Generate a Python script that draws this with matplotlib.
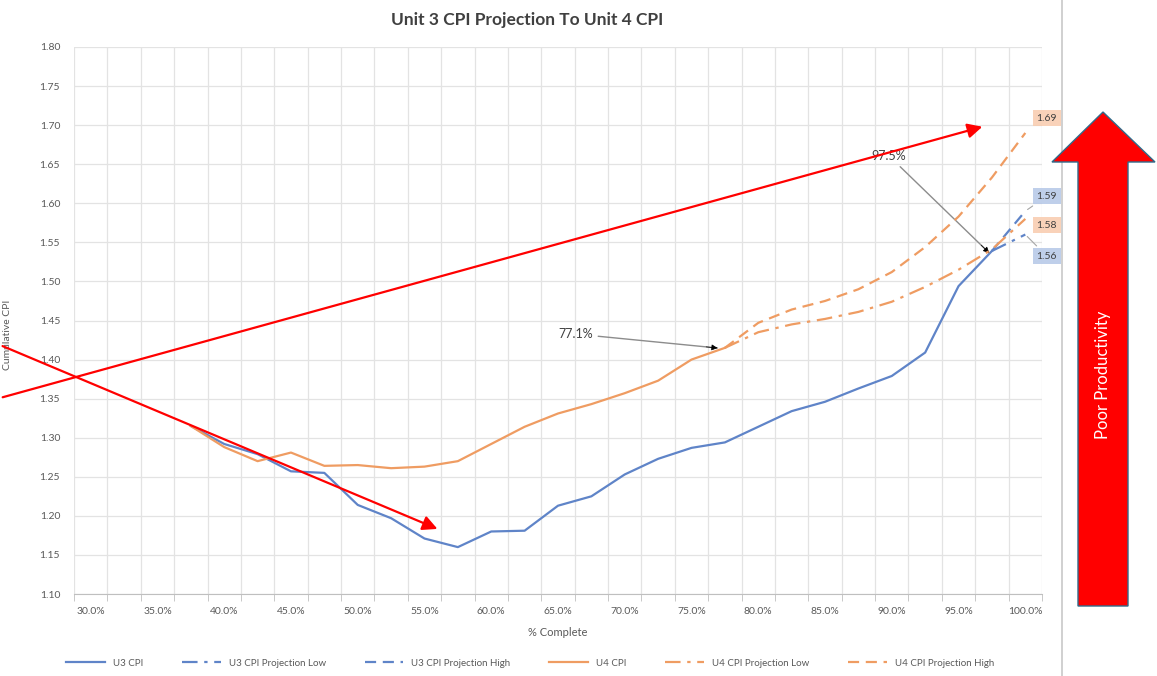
import matplotlib
matplotlib.use('Agg')
import matplotlib.pyplot as plt
from matplotlib.patches import Polygon, FancyArrowPatch
from matplotlib.lines import Line2D

plt.rcParams['font.family'] = ['Lato', 'DejaVu Sans']

# Data (% complete vs cumulative CPI)
u3_x = [37.5, 40, 42.5, 45, 47.5, 50, 52.5, 55, 57.5, 60, 62.5, 65, 67.5,
        70, 72.5, 75, 77.5, 80, 82.5, 85, 87.5, 90, 92.5, 95, 97.5]
u3_cpi = [1.315, 1.292, 1.279, 1.257, 1.255, 1.214, 1.197, 1.171, 1.160,
          1.180, 1.181, 1.213, 1.225, 1.253, 1.273, 1.287, 1.294, 1.314,
          1.334, 1.346, 1.363, 1.379, 1.409, 1.494, 1.539]

u3_proj_x = [97.5, 100]
u3_proj_low = [1.539, 1.56]
u3_proj_high = [1.539, 1.59]

u4_x = [37.5, 40, 42.5, 45, 47.5, 50, 52.5, 55, 57.5, 60, 62.5, 65, 67.5,
        70, 72.5, 75, 77.5]
u4_cpi = [1.315, 1.288, 1.270, 1.281, 1.264, 1.265, 1.261, 1.263, 1.270,
          1.292, 1.314, 1.331, 1.343, 1.357, 1.373, 1.400, 1.415]

u4_proj_x = [77.5, 80, 82.5, 85, 87.5, 90, 92.5, 95, 97.5, 100]
u4_proj_low = [1.415, 1.435, 1.445, 1.452, 1.461, 1.474, 1.493, 1.515, 1.541, 1.58]
u4_proj_high = [1.415, 1.447, 1.464, 1.475, 1.490, 1.512, 1.544, 1.583, 1.633, 1.69]

x_ticks = [30, 35, 40, 45, 50, 55, 60, 65, 70, 75, 80, 85, 90, 95, 100]
x_labels = ['%.1f%%' % v for v in x_ticks]
y_ticks = [1.10 + 0.05 * i for i in range(15)]

BLUE = '#5f84c8'
ORANGE = '#ef9c62'
GREY_TXT = '#595959'
DASH_LOW = (0, (7, 3, 1.5, 3))
DASH_HIGH = (0, (5, 3))

W, H = 1157, 676
fig = plt.figure(figsize=(W / 100, H / 100), dpi=100)
ax = fig.add_axes([74 / W, 1 - 594 / H, (1042 - 74) / W, (594 - 47) / H])

ax.plot(u3_x, u3_cpi, color=BLUE, lw=1.6, label='U3 CPI', zorder=3)
ax.plot(u3_proj_x, u3_proj_low, color=BLUE, lw=1.6, ls=DASH_LOW,
        label='U3 CPI Projection Low', zorder=3)
ax.plot(u3_proj_x, u3_proj_high, color=BLUE, lw=1.6, ls=DASH_HIGH,
        label='U3 CPI Projection High', zorder=3)
ax.plot(u4_x, u4_cpi, color=ORANGE, lw=1.6, label='U4 CPI', zorder=4)
ax.plot(u4_proj_x, u4_proj_low, color=ORANGE, lw=1.6, ls=DASH_LOW,
        label='U4 CPI Projection Low', zorder=4)
ax.plot(u4_proj_x, u4_proj_high, color=ORANGE, lw=1.6, ls=DASH_HIGH,
        label='U4 CPI Projection High', zorder=4)

ax.set_xlim(28.75, 101.25)
ax.set_ylim(1.10, 1.80)
ax.set_xticks(x_ticks)
ax.set_xticklabels(x_labels)
ax.set_xticks([28.75 + 2.5 * k for k in range(30)], minor=True)
ax.set_yticks(y_ticks)
ax.set_yticklabels(['%.2f' % v for v in y_ticks])
ax.tick_params(axis='x', which='major', length=0, pad=9, labelsize=7.5, labelcolor=GREY_TXT)
ax.tick_params(axis='x', which='minor', length=5, color='#bfbfbf', direction='out')
ax.tick_params(axis='y', length=0, pad=10, labelsize=7.5, labelcolor=GREY_TXT)
ax.grid(True, axis='x', which='minor', color='#e3e3e3', lw=0.9)
ax.grid(True, axis='y', which='major', color='#e3e3e3', lw=0.9)
ax.grid(False, axis='x', which='major')
for s in ['top', 'right', 'left']:
    ax.spines[s].set_visible(False)
ax.spines['bottom'].set_color('#bfbfbf')

ax.set_xlabel('% Complete', fontsize=8, color=GREY_TXT, labelpad=8)
fig.text(8 / W, 1 - 335 / H, 'Cumulative CPI', rotation=90, fontsize=7.5,
         color=GREY_TXT, ha='center', va='center')
fig.text(527 / W, 1 - 20 / H, 'Unit 3 CPI Projection To Unit 4 CPI',
         fontsize=12.5, fontweight='bold', color='#404040', ha='center', va='center')

# end-point data labels (leader shown only where the label sits away from the line)
end_labels = [
    ('%.2f' % u4_proj_high[-1], u4_proj_high[-1], 1.709, '#f8cbad', False),
    ('%.2f' % u3_proj_high[-1], u3_proj_high[-1], 1.609, '#b4c7e7', True),
    ('%.2f' % u4_proj_low[-1], u4_proj_low[-1], 1.572, '#f8cbad', False),
    ('%.2f' % u3_proj_low[-1], u3_proj_low[-1], 1.5325, '#b4c7e7', True),
]
for txt, yv, ty, fc, leader in end_labels:
    props = dict(arrowstyle='-', color='#a6a6a6', lw=0.8) if leader else None
    ax.annotate(txt, xy=(100, yv), xytext=(101.6, ty), fontsize=7.5,
                color='#404040', ha='center', va='center', annotation_clip=False,
                bbox=dict(boxstyle='square,pad=0.35', fc=fc, ec='none', alpha=0.85),
                arrowprops=props)

# callouts: grey shaft, black head
callouts = [('77.1%', (76.95, 1.4148), (66.3, 1.4327)),
            ('97.5%', (97.3, 1.5364), (89.8, 1.6605))]
for txt, tip, pos in callouts:
    ax.annotate(txt, xy=tip, xytext=pos, fontsize=9, color='#404040',
                ha='center', va='center',
                arrowprops=dict(arrowstyle='-', color='#8c8c8c', lw=1,
                                shrinkA=2, shrinkB=0))
    back = (tip[0] - (tip[0] - pos[0]) * 0.08, tip[1] - (tip[1] - pos[1]) * 0.08)
    ax.annotate('', xy=tip, xytext=back,
                arrowprops=dict(arrowstyle='-|>', color='black', lw=0.5,
                                mutation_scale=9, shrinkA=0, shrinkB=0))

fig.legend(loc='center', bbox_to_anchor=(530 / W, 1 - 663 / H), ncol=6,
           frameon=False, fontsize=7, handlelength=4, columnspacing=4,
           labelcolor=GREY_TXT)


def fp(x, y):
    return (x / W, 1 - y / H)


# red overlay arrows
for a, b in [((0, 398), (985, 126)), ((0, 345), (440, 530))]:
    fig.add_artist(FancyArrowPatch(fp(*a), fp(*b), transform=fig.transFigure,
                                   arrowstyle='-|>', mutation_scale=22,
                                   color='#ff0000', lw=1.6, zorder=10))

# separator line
fig.add_artist(Line2D([1062 / W, 1062 / W], [0, 1], transform=fig.transFigure,
                      color='#c8c8c8', lw=1.2))

# big block arrow
pts = [(1078, 606), (1128, 606), (1128, 162), (1155, 162), (1103, 112),
       (1052, 162), (1078, 162)]
fig.add_artist(Polygon([fp(*p) for p in pts], closed=True, transform=fig.transFigure,
                       fc='#ff0000', ec='#2f6b8a', lw=1, zorder=11))
fig.text(1103 / W, 1 - 375 / H, 'Poor Productivity', rotation=90, color='white',
         fontsize=12, ha='center', va='center', zorder=12)

fig.savefig('out.png', dpi=100, facecolor='white')
